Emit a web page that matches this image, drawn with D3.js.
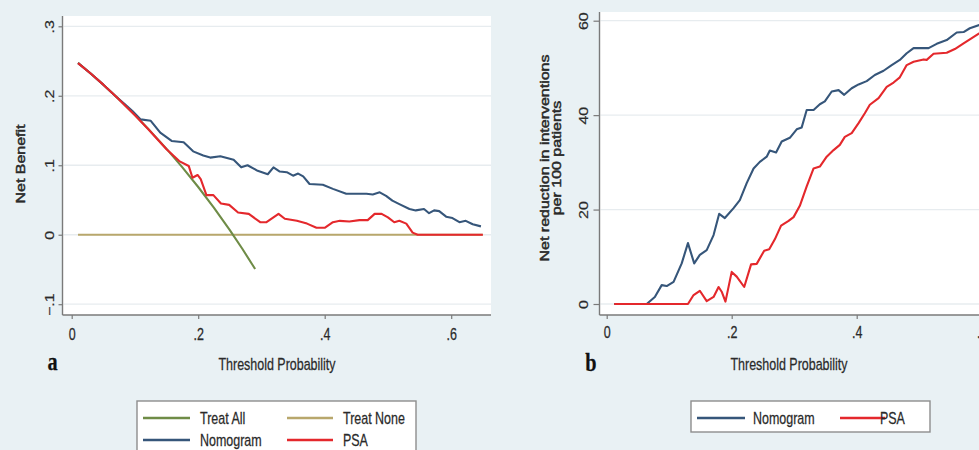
<!DOCTYPE html>
<html>
<head>
<meta charset="utf-8">
<script src="https://cdn.jsdelivr.net/npm/d3@7"></script>
<style>
  html, body { margin: 0; padding: 0; background: #e9f1f4; overflow: hidden; }
  svg { display: block; font-family: "Liberation Sans", Arial, sans-serif; }
</style>
</head>
<body>
<svg id="fig" width="979" height="450"></svg>
<script>
// ---------- Data ----------
// Panel a: decision curve (net benefit vs threshold probability)
const ticksAx = [0, 0.2, 0.4, 0.6];
const ticksAy = [-0.1, 0, 0.1, 0.2, 0.3];

const treatAllNB = [
  [0.01, 0.2475], [0.03, 0.232], [0.05, 0.2158], [0.07, 0.1989], [0.10, 0.1722],
  [0.12, 0.1534], [0.15, 0.1235], [0.175, 0.097], [0.20, 0.0687], [0.225, 0.0387],
  [0.25, 0.0067], [0.27, -0.0206], [0.29, -0.0493]
];
const treatNoneNB = [[0.01, 0], [0.65, 0]];
const nomogramNB = [
  [0.01, 0.247], [0.03, 0.232], [0.05, 0.216], [0.07, 0.199], [0.085, 0.187],
  [0.096, 0.178], [0.109, 0.166], [0.125, 0.164], [0.14, 0.147], [0.158, 0.135],
  [0.177, 0.133], [0.192, 0.12], [0.208, 0.114], [0.219, 0.111], [0.235, 0.113],
  [0.256, 0.108], [0.268, 0.097], [0.278, 0.1], [0.294, 0.092], [0.31, 0.087],
  [0.319, 0.097], [0.329, 0.091], [0.34, 0.09], [0.35, 0.085], [0.358, 0.088],
  [0.366, 0.084], [0.376, 0.073], [0.397, 0.072], [0.413, 0.066], [0.434, 0.059],
  [0.466, 0.059], [0.476, 0.058], [0.487, 0.061], [0.497, 0.056], [0.507, 0.049],
  [0.518, 0.044], [0.534, 0.037], [0.544, 0.035], [0.557, 0.037], [0.565, 0.031],
  [0.573, 0.035], [0.581, 0.034], [0.592, 0.026], [0.602, 0.024], [0.613, 0.018],
  [0.623, 0.02], [0.634, 0.015], [0.647, 0.012]
];
const psaNB = [
  [0.01, 0.247], [0.03, 0.232], [0.05, 0.216], [0.07, 0.199], [0.10, 0.172],
  [0.12, 0.153], [0.15, 0.123], [0.17, 0.106], [0.185, 0.099], [0.191, 0.082],
  [0.199, 0.086], [0.204, 0.08], [0.213, 0.057], [0.224, 0.057], [0.236, 0.045],
  [0.249, 0.043], [0.263, 0.032], [0.28, 0.03], [0.298, 0.018], [0.308, 0.018],
  [0.327, 0.03], [0.337, 0.023], [0.356, 0.02], [0.372, 0.016], [0.387, 0.01],
  [0.4, 0.01], [0.413, 0.018], [0.424, 0.02], [0.439, 0.019], [0.455, 0.021],
  [0.468, 0.021], [0.479, 0.03], [0.49, 0.03], [0.5, 0.025], [0.51, 0.018],
  [0.518, 0.02], [0.529, 0.016], [0.539, 0.003], [0.547, 0], [0.65, 0]
];

// Panel b: net reduction in interventions per 100 patients
const ticksBx = [0, 0.2, 0.4, 0.6];
const ticksBy = [0, 20, 40, 60];

const nomogramReduction = [
  [0.012, 0], [0.064, 0], [0.077, 1.5], [0.088, 4.0], [0.096, 3.8], [0.107, 4.7],
  [0.12, 8.6], [0.13, 12.9], [0.14, 8.6], [0.149, 10.4], [0.16, 11.4], [0.171, 14.6],
  [0.18, 19.1], [0.189, 18.2], [0.203, 20.3], [0.213, 22.0], [0.224, 25.6], [0.235, 28.7],
  [0.245, 30.1], [0.256, 31.2], [0.261, 32.5], [0.271, 32.1], [0.28, 34.4], [0.293, 35.2],
  [0.304, 37.0], [0.312, 37.4], [0.32, 41.1], [0.331, 41.1], [0.341, 42.3], [0.349, 42.9],
  [0.36, 45.0], [0.371, 45.3], [0.38, 44.3], [0.392, 45.7], [0.403, 46.5], [0.416, 47.2],
  [0.429, 48.5], [0.443, 49.4], [0.456, 50.6], [0.469, 51.7], [0.48, 53.1], [0.491, 54.2],
  [0.515, 54.2], [0.528, 55.1], [0.544, 55.9], [0.56, 57.5], [0.571, 57.6], [0.581, 58.4],
  [0.596, 59.1], [0.62, 60.2], [0.65, 61.0]
];
const psaReduction = [
  [0.012, 0], [0.13, 0], [0.139, 1.9], [0.149, 2.8], [0.16, 0.6], [0.171, 1.5],
  [0.179, 3.6], [0.184, 2.6], [0.19, 0.5], [0.2, 6.8], [0.208, 5.8], [0.22, 3.6],
  [0.231, 8.4], [0.24, 8.5], [0.252, 11.3], [0.26, 11.6], [0.269, 13.7], [0.279, 16.6],
  [0.291, 17.6], [0.299, 18.4], [0.309, 20.8], [0.32, 24.9], [0.331, 28.7], [0.341, 29.1],
  [0.352, 31.2], [0.363, 32.6], [0.373, 33.7], [0.381, 35.4], [0.392, 36.2], [0.403, 38.3],
  [0.413, 40.4], [0.421, 42.2], [0.435, 43.6], [0.448, 46.0], [0.459, 46.9], [0.469, 48.0],
  [0.48, 50.6], [0.491, 51.3], [0.507, 51.8], [0.512, 51.7], [0.523, 53.0], [0.544, 53.2],
  [0.557, 54.0], [0.571, 55.2], [0.596, 57.3], [0.62, 58.6], [0.65, 59.8]
];

const legendLabelsA = ["Treat All", "Treat None", "Nomogram", "PSA"];
const legendLabelsB = ["Nomogram", "PSA"];

// ---------- Styling ----------
const COLORS = {
  treatAll: "#6f8c47",
  treatNone: "#b8a76c",
  nomogram: "#36567a",
  psa: "#e4282c"
};
const BG = "#e9f1f4";
const TEXT = "#2a2a2a";
const AXIS = "#7a7a7a";
const GRID = "#e7ecef";
const SQ = 0.78;           // horizontal condensation of the lettering
const FONT = 16;

const svg = d3.select("#fig");
svg.append("rect").attr("width", 979).attr("height", 450).attr("fill", BG);

const fmtProb = v => v === 0 ? "0" : d3.format(".1f")(v).replace("0.", ".");

function hText(g, x, y, str, opts = {}) {
  return g.append("text")
    .attr("transform", `translate(${x},${y}) scale(${SQ},1)`)
    .attr("text-anchor", opts.anchor || "middle")
    .attr("font-size", opts.size || FONT)
    .attr("font-weight", opts.weight || "normal")
    .attr("font-family", opts.family || null)
    .attr("fill", opts.fill || TEXT)
    .attr("stroke", opts.fill || TEXT)
    .attr("stroke-width", opts.stroke || 0.25)
    .text(str);
}
function vText(g, x, y, str, opts = {}) {
  return g.append("text")
    .attr("transform", `translate(${x},${y}) rotate(-90) scale(1,${SQ})`)
    .attr("text-anchor", "middle")
    .attr("font-size", opts.size || FONT)
    .attr("font-weight", opts.weight || "normal")
    .attr("fill", opts.fill || TEXT)
    .attr("stroke", opts.fill || TEXT)
    .attr("stroke-width", opts.stroke || 0.25)
    .text(str);
}

function drawPanel(p) {
  const g = svg.append("g");
  const [x0, x1] = [p.box.left, p.box.right];
  const [y0, y1] = [p.box.top, p.box.bottom];

  // plot region
  g.append("rect").attr("x", x0).attr("y", y0)
    .attr("width", x1 - x0).attr("height", y1 - y0).attr("fill", "#ffffff");

  // horizontal grid lines
  g.selectAll("line.grid").data(p.yTicks).join("line")
    .attr("class", "grid")
    .attr("x1", x0 + 1).attr("x2", x1)
    .attr("y1", d => p.y(d)).attr("y2", d => p.y(d))
    .attr("stroke", GRID).attr("stroke-width", 1.3);

  // series
  const clipId = "clip-" + p.id;
  g.append("clipPath").attr("id", clipId).append("rect")
    .attr("x", x0).attr("y", y0).attr("width", x1 - x0).attr("height", y1 - y0);
  const line = d3.line().x(d => p.x(d[0])).y(d => p.y(d[1]));
  p.series.forEach(s => {
    g.append("path").datum(s.data)
      .attr("d", line)
      .attr("clip-path", `url(#${clipId})`)
      .attr("fill", "none")
      .attr("stroke", s.color)
      .attr("stroke-width", 2.1)
      .attr("stroke-linejoin", "round");
  });

  // y axis
  const ya = g.append("g").attr("transform", `translate(${x0},0)`)
    .call(d3.axisLeft(p.y).tickValues(p.yTicks).tickSize(p.yTickLen).tickFormat(p.yFmt));
  ya.select(".domain").remove();
  ya.selectAll(".tick line").attr("stroke", AXIS).attr("stroke-width", 1.2);
  ya.selectAll(".tick text")
    .attr("x", null).attr("dy", null)
    .attr("text-anchor", "middle")
    .attr("font-size", FONT).attr("font-family", null).attr("fill", TEXT)
    .attr("stroke", TEXT).attr("stroke-width", 0.25)
    .attr("transform", `translate(${-p.yLabelOff},0) rotate(-90) scale(1,${SQ})`);
  g.append("line").attr("x1", x0).attr("x2", x0).attr("y1", y0).attr("y2", y1)
    .attr("stroke", AXIS).attr("stroke-width", 1.4);

  // x axis
  const xa = g.append("g").attr("transform", `translate(0,${y1})`)
    .call(d3.axisBottom(p.x).tickValues(p.xTicks).tickSize(p.xTickLen).tickFormat(fmtProb));
  xa.select(".domain").remove();
  xa.selectAll(".tick line").attr("stroke", AXIS).attr("stroke-width", 1.2);
  xa.selectAll(".tick text")
    .attr("y", null).attr("dy", null)
    .attr("font-size", FONT).attr("font-family", null).attr("fill", TEXT)
    .attr("stroke", TEXT).attr("stroke-width", 0.25)
    .attr("transform", `translate(0,${p.xLabelOff}) scale(${SQ},1)`);
  g.append("line").attr("x1", x0).attr("x2", x1).attr("y1", y1).attr("y2", y1)
    .attr("stroke", AXIS).attr("stroke-width", 1.4);

  // titles
  hText(g, p.xTitle.x, p.xTitle.y, "Threshold Probability");
  p.yTitle.forEach(t => vText(g, t.x, t.y, t.text, { stroke: 0.6 }));
  hText(g, p.tag.x, p.tag.y, p.tag.text,
    { size: 26, weight: "bold", family: "'Liberation Serif', 'Times New Roman', serif", fill: "#111" });

  // legend
  const L = p.legend;
  g.append("rect").attr("x", L.x).attr("y", L.y).attr("width", L.w).attr("height", L.h)
    .attr("fill", "#ffffff").attr("stroke", "#8d8d8d").attr("stroke-width", 1.4);
  L.items.forEach(it => {
    g.append("line").attr("x1", it.x1).attr("x2", it.x2).attr("y1", it.y).attr("y2", it.y)
      .attr("stroke", it.color).attr("stroke-width", 2.6);
    hText(g, it.tx, it.y + 6, it.label, { anchor: "start" });
  });
}

// ---------- Panel a ----------
const xA = d3.scaleLinear().domain([0, 0.6]).range([71.7, 451.2]);
const yA = d3.scaleLinear().domain([-0.1, 0.3]).range([304.2, 26.3]);
drawPanel({
  id: "a",
  box: { left: 62.5, right: 491, top: 16, bottom: 315 },
  x: xA, y: yA,
  xTicks: ticksAx, yTicks: ticksAy,
  yFmt: fmtProb,
  yTickLen: 4, xTickLen: 4,
  yLabelOff: 9, xLabelOff: 25,
  series: [
    { data: treatNoneNB, color: COLORS.treatNone },
    { data: treatAllNB, color: COLORS.treatAll },
    { data: nomogramNB, color: COLORS.nomogram },
    { data: psaNB, color: COLORS.psa }
  ],
  xTitle: { x: 277, y: 370 },
  yTitle: [{ x: 25, y: 164, text: "Net Benefit" }],
  tag: { x: 52.5, y: 370, text: "a" },
  legend: {
    x: 137, y: 401, w: 279, h: 70,
    items: [
      { label: legendLabelsA[0], color: COLORS.treatAll, x1: 143, x2: 190, tx: 200, y: 418 },
      { label: legendLabelsA[1], color: COLORS.treatNone, x1: 287, x2: 333, tx: 343, y: 418 },
      { label: legendLabelsA[2], color: COLORS.nomogram, x1: 143, x2: 190, tx: 200, y: 440 },
      { label: legendLabelsA[3], color: COLORS.psa, x1: 287, x2: 333, tx: 343, y: 440 }
    ]
  }
});

// ---------- Panel b ----------
const xB = d3.scaleLinear().domain([0, 0.4]).range([606.7, 856.7]);
const yB = d3.scaleLinear().domain([0, 60]).range([304, 20.7]);
drawPanel({
  id: "b",
  box: { left: 599.5, right: 1000, top: 12, bottom: 315 },
  x: xB, y: yB,
  xTicks: ticksBx, yTicks: ticksBy,
  yFmt: d3.format("d"),
  yTickLen: 6, xTickLen: 4,
  yLabelOff: 12, xLabelOff: 23,
  series: [
    { data: nomogramReduction, color: COLORS.nomogram },
    { data: psaReduction, color: COLORS.psa }
  ],
  xTitle: { x: 789, y: 370 },
  yTitle: [
    { x: 549, y: 158, text: "Net reduction in interventions" },
    { x: 561, y: 158, text: "per 100 patients" }
  ],
  tag: { x: 591, y: 371, text: "b" },
  legend: {
    x: 691, y: 401, w: 239, h: 31,
    items: [
      { label: legendLabelsB[0], color: COLORS.nomogram, x1: 697, x2: 745, tx: 753, y: 418 },
      { label: legendLabelsB[1], color: COLORS.psa, x1: 840, x2: 885, tx: 880, y: 418 }
    ]
  }
});
</script>
</body>
</html>
